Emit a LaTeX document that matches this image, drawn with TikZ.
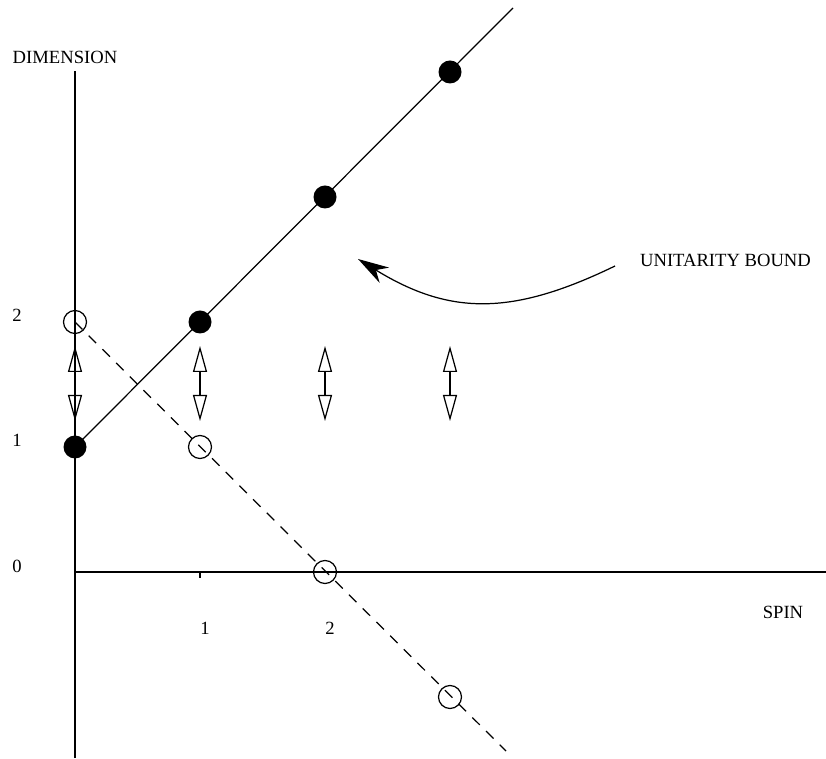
\documentclass[tikz,border=0pt]{standalone}
\usepackage{fontspec}
\setmainfont{Liberation Serif}
\usetikzlibrary{arrows.meta}

\begin{document}
\begin{tikzpicture}[x=2.5cm, y=2.5cm,
    lbl/.style={font=\fontsize{10.6}{12}\selectfont, inner sep=0pt},
    fulldot/.style={circle, fill=black, minimum size=0.46cm, inner sep=0pt},
    opendot/.style={circle, draw, line width=0.7pt, minimum size=0.46cm, inner sep=0pt},
    arrow/.style={{Triangle[open, length=0.52cm, width=0.28cm]}-{Triangle[open, length=0.52cm, width=0.28cm]}, line width=0.7pt}
]
    \useasboundingbox (-0.6,-1.488) rectangle (6.008,4.576);
    % axes
    \coordinate (o) at (0,0);
    \coordinate (ytop) at (0,4.008);
    \coordinate (ybot) at (0,-1.488);
    \coordinate (xend) at (6.008,0);
    \coordinate (t1) at (1,0);
    \draw[line width=0.7pt] (ybot) -- (ytop);
    \draw[line width=0.7pt] (o) -- (xend);
    \draw[line width=0.7pt] (t1) -- ++(0,-0.05);
    \node[lbl] (dim) at (-0.08,4.12) {DIMENSION};
    \node[lbl] (spin) at (5.664,-0.32) {SPIN};
    \node[lbl] (y0) at (-0.464,0.048) {0};
    \node[lbl] (y1) at (-0.464,1.056) {1};
    \node[lbl] (y2) at (-0.464,2.056) {2};
    \node[lbl] (x1) at (1.04,-0.448) {1};
    \node[lbl] (x2) at (2.04,-0.448) {2};
    % states
    \node[fulldot] (f0) at (0,1) {};
    \node[fulldot] (f1) at (1,2) {};
    \node[fulldot] (f2) at (2,3) {};
    \node[fulldot] (f3) at (3,4) {};
    \node[opendot] (e0) at (0,2) {};
    \node[opendot] (e1) at (1,1) {};
    \node[opendot] (e2) at (2,0) {};
    \node[opendot] (e3) at (3,-1) {};
    \coordinate (fend) at (3.504,4.512);
    \coordinate (eend) at (3.448,-1.432);
    \draw[line width=0.7pt] (f0.center) -- (fend);
    \draw[line width=0.7pt, dashed, dash pattern=on 6pt off 5pt] (e0.center) -- (eend);
    % shifts
    \foreach \i in {0,1,2,3} {
        \coordinate (up\i) at (\i,1.808);
        \coordinate (dn\i) at (\i,1.208);
        \draw[arrow] (dn\i) -- (up\i);
    }
    % bound
    \node[lbl] (ub) at (5.204,2.496) {UNITARITY BOUND};
    \coordinate (ubs) at (4.32,2.448);
    \coordinate (ube) at (2.264,2.504);
    \draw[line width=0.7pt, -{Stealth[length=0.62cm, width=0.36cm, inset=0.2cm]}] (ubs) .. controls (3.5,2.05) and (3.0,2.05) .. (ube);
\end{tikzpicture}
\end{document}
